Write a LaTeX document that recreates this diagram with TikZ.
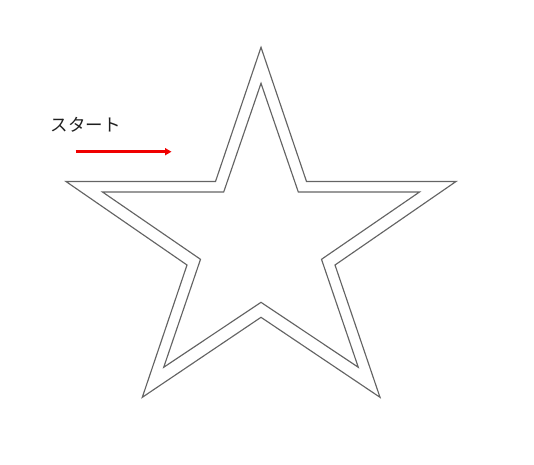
\documentclass[tikz,border=0pt]{standalone}
\usepackage{fontspec}
\newfontfamily\jpfont{Noto Sans CJK JP}
\usetikzlibrary{arrows.meta}
\definecolor{starline}{RGB}{100,100,100}
\definecolor{startred}{RGB}{240,0,0}
\tikzset{
  starpath/.style={draw=starline, line width=1.15pt, line join=miter},
  startarrow/.style={draw=startred, line width=2.6pt, -{Triangle[length=6.5pt,width=7pt]}},
  label/.style={font=\jpfont\fontsize{17.5pt}{20pt}\selectfont, text=black!88, inner sep=0pt}
}
\begin{document}
\begin{tikzpicture}[x=1pt,y=-1pt]
\useasboundingbox (0,0) rectangle (534,464);
% outer star
\draw[starpath] (261,47.3) -- (306.5,181.5) -- (456,181.5) -- (335,265) -- (380,397.3)
  -- (261,317.3) -- (142.3,397.3) -- (187,265) -- (66,181.5) -- (215.5,181.5) -- cycle;
% inner star
\draw[starpath] (261,83.3) -- (298.3,192) -- (419.5,192) -- (321.5,259.3) -- (358.3,367.3)
  -- (261,302.3) -- (163.7,367.3) -- (200.5,259.3) -- (102.5,192) -- (223.7,192) -- cycle;
% label and arrow
\node[label] (start) at (85.5,125) {スタート};
\coordinate (a0) at (75.5,151.7);
\coordinate (a1) at (171.5,151.7);
\draw[startarrow] (a0) -- (a1);
\end{tikzpicture}
\end{document}
